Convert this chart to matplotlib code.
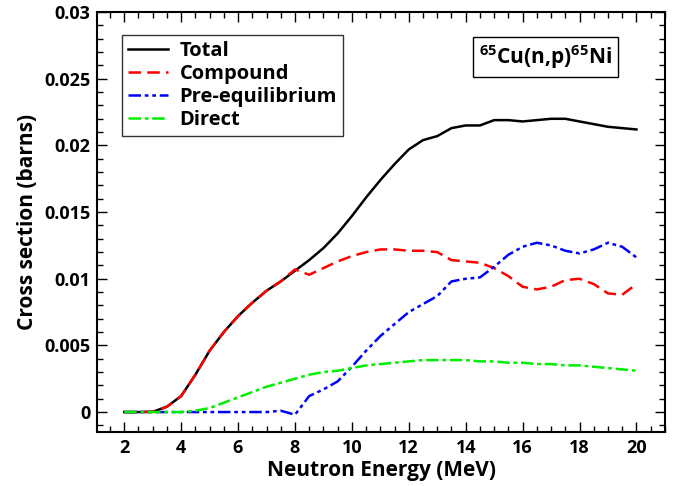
import matplotlib
matplotlib.use("Agg")
import matplotlib.pyplot as plt
import numpy as np
from matplotlib.ticker import MultipleLocator

plt.rcParams['font.family'] = ['Open Sans', 'DejaVu Sans']
plt.rcParams['font.weight'] = 'bold'
plt.rcParams['mathtext.fontset'] = 'custom'
plt.rcParams['mathtext.rm'] = 'Open Sans:bold'
plt.rcParams['mathtext.bf'] = 'Open Sans:bold'

# neutron energy grid (MeV)
energy = np.arange(2.0, 20.01, 0.5)

total = [0, 0, 0.00002, 0.0004, 0.0012, 0.0028, 0.0046, 0.0060, 0.0072, 0.0082,
         0.0091, 0.0098, 0.0106, 0.0114, 0.0123, 0.0134, 0.0147, 0.0161, 0.0174,
         0.0186, 0.0197, 0.0204, 0.0207, 0.0213, 0.0215, 0.0215, 0.0219, 0.0219,
         0.0218, 0.0219, 0.0220, 0.0220, 0.0218, 0.0216, 0.0214, 0.0213, 0.0212]

compound = [0, 0, 0.00002, 0.0004, 0.0012, 0.0028, 0.0046, 0.0060, 0.0072, 0.0082,
            0.0091, 0.0098, 0.0107, 0.0103, 0.0108, 0.0113, 0.0117, 0.0120, 0.0122,
            0.0122, 0.0121, 0.0121, 0.0120, 0.0114, 0.0113, 0.0112, 0.0108, 0.0102,
            0.0094, 0.0092, 0.0094, 0.0099, 0.0100, 0.0096, 0.0089, 0.0088, 0.0096]

preeq = [0, 0, 0, 0, 0, 0, 0, 0, 0, 0,
         0, 0.0001, -0.0002, 0.0012, 0.0017, 0.0023, 0.0034, 0.0046, 0.0057,
         0.0066, 0.0075, 0.0081, 0.0087, 0.0098, 0.0100, 0.0101, 0.0109, 0.0118,
         0.0124, 0.0127, 0.0125, 0.0121, 0.0119, 0.0122, 0.0127, 0.0124, 0.0116]

direct = [0, 0, 0, 0, 0, 0.0001, 0.0003, 0.0007, 0.0011, 0.0015,
          0.0019, 0.0022, 0.0025, 0.0028, 0.0030, 0.0031, 0.0033, 0.0035, 0.0036,
          0.0037, 0.0038, 0.0039, 0.0039, 0.0039, 0.0039, 0.0038, 0.0038, 0.0037,
          0.0037, 0.0036, 0.0036, 0.0035, 0.0035, 0.0034, 0.0033, 0.0032, 0.0031]

fig = plt.figure(figsize=(6.75, 4.86), dpi=100)
ax = fig.add_axes([0.144, 0.111, 0.841, 0.864])

ax.plot(energy, total, color='black', lw=1.8, label='Total')
ax.plot(energy, compound, color='red', lw=1.8, dashes=(5, 2.5), label='Compound')
ax.plot(energy, preeq, color='blue', lw=1.8, dashes=(5, 1.5, 1.5, 1.5, 1.5, 1.5),
        label='Pre-equilibrium')
ax.plot(energy, direct, color='#00ee00', lw=1.8, dashes=(5, 1.5, 1.5, 1.5),
        label='Direct')

ax.set_xlim(1.05, 21)
ax.set_ylim(-0.0015, 0.03)
ax.xaxis.set_major_locator(MultipleLocator(2))
ax.xaxis.set_minor_locator(MultipleLocator(0.5))
ax.yaxis.set_minor_locator(MultipleLocator(0.001))
ax.set_yticks([0, 0.005, 0.01, 0.015, 0.02, 0.025, 0.03])
ax.set_yticklabels(['0', '0.005', '0.01', '0.015', '0.02', '0.025', '0.03'])

ax.tick_params(which='both', direction='in', top=True, right=True,
               labelsize=13, width=1)
ax.tick_params(which='major', length=7, pad=5)
ax.tick_params(which='minor', length=4)
for s in ax.spines.values():
    s.set_linewidth(1.5)

ax.set_xlabel('Neutron Energy (MeV)', fontsize=15, fontweight='bold', labelpad=2)
ax.set_ylabel('Cross section (barns)', fontsize=15, fontweight='bold', labelpad=4)

leg = ax.legend(loc='upper left', bbox_to_anchor=(0.044, 0.945), borderaxespad=0,
                fontsize=14.5, frameon=True, fancybox=False, edgecolor='black',
                handlelength=2.0, handletextpad=0.55, borderpad=0.3,
                labelspacing=0.15)
leg.get_frame().set_linewidth(1.0)

ax.text(0.79, 0.893, r'$^{65}$Cu(n,p)$^{65}$Ni', transform=ax.transAxes,
        ha='center', va='center', fontsize=15, fontweight='bold',
        bbox=dict(boxstyle='square,pad=0.3', fc='white', ec='black', lw=1.0))

fig.savefig('out.png', dpi=100)
